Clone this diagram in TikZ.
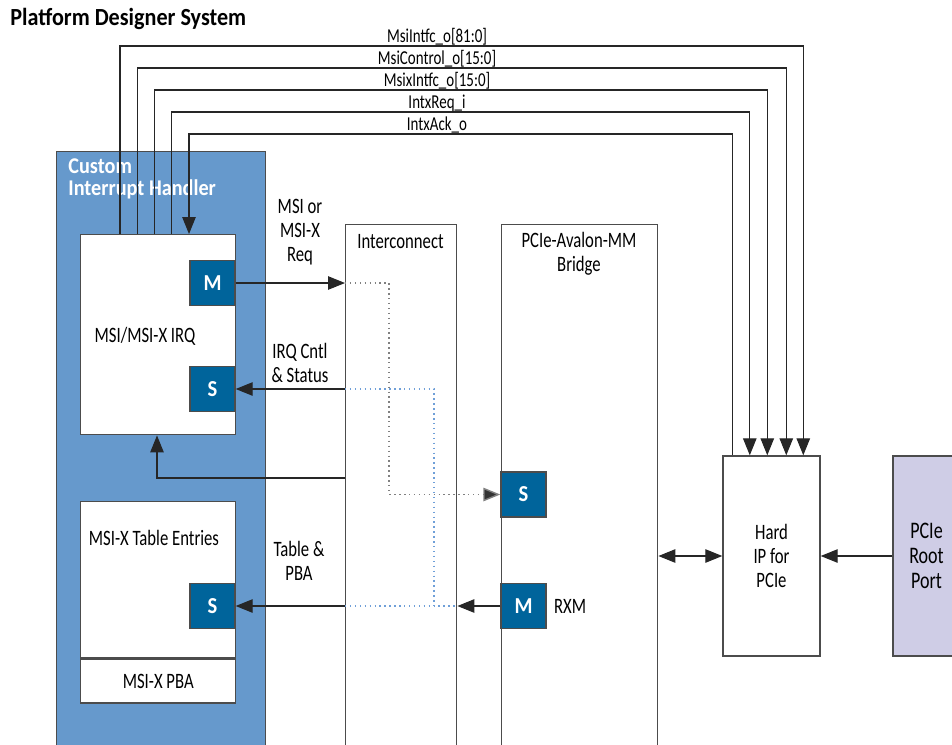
\documentclass[tikz,border=0pt]{standalone}
\usepackage{fontspec}
\setmainfont{Carlito}[FakeStretch=0.76]
\newfontfamily\headfont{Carlito}[FakeStretch=0.9]
\usetikzlibrary{arrows.meta,positioning,calc}
\definecolor{cihblue}{HTML}{6699CC}
\definecolor{portblue}{HTML}{00649B}
\definecolor{rootpurple}{HTML}{CFCDE6}
\definecolor{dotblue}{HTML}{6F9FD8}
\definecolor{dotgray}{HTML}{808080}
\newcommand{\bodyfont}{\fontsize{12.5}{13.7}\selectfont}

\begin{document}
\begin{tikzpicture}[>={Triangle[length=0.34cm,width=0.27cm]}, font=\bodyfont,
  blk/.style={draw=black!70, line width=0.8pt, fill=#1, inner sep=0pt},
  blk/.default=white,
  port/.style={draw=black!70, line width=0.8pt, fill=portblue, minimum size=0.9cm, inner sep=0pt, text=white, font=\headfont\fontsize{13}{14}\selectfont\bfseries},
  wire/.style={black!85, line width=0.6pt},
  lab/.style={font=\fontsize{11.2}{12}\selectfont, inner sep=0pt}]
  \useasboundingbox (0,0) rectangle (19.04,-14.88);
  \clip (0,0) rectangle (19.04,-14.88);
  % title
  \node[font=\headfont\fontsize{14}{16}\selectfont\bfseries, anchor=west, inner sep=0pt] (title) at (0.2,-0.38) {Platform Designer System};
  % custom interrupt handler
  \node[blk=cihblue, minimum width=4.18cm, minimum height=12.4cm, anchor=north west] (cih) at (1.12,-3.02) {};
  \node[font=\headfont\fontsize{12.8}{12.6}\selectfont\bfseries, text=white, align=left, anchor=north west, inner sep=0pt] (cihlab) at (1.36,-3.17) {Custom\\Interrupt Handler};
  \node[blk, minimum width=3.1cm, minimum height=4.0cm, anchor=north west] (irq) at (1.6,-4.68) {};
  \node (irqlab) at (2.9,-6.72) {MSI/MSI-X IRQ};
  \node[port] (irqm) at (4.25,-5.66) {M};
  \node[port] (irqs) at (4.25,-7.78) {S};
  \node[blk, minimum width=3.1cm, minimum height=3.12cm, anchor=north west] (tbl) at (1.6,-10.02) {};
  \node[blk, minimum width=3.1cm, minimum height=0.88cm, anchor=north west] (pba) at (tbl.south west) {MSI-X PBA};
  \node (tbllab) at (3.08,-10.76) {MSI-X Table Entries};
  \node[port] (tbls) at (4.25,-12.12) {S};
  % interconnect and bridge
  \node[blk, minimum width=2.22cm, minimum height=10.8cm, anchor=north west] (icx) at (6.9,-4.48) {};
  \node (icxlab) at (8.01,-4.84) {Interconnect};
  \node[blk, minimum width=3.12cm, minimum height=10.8cm, anchor=north west] (brg) at (10.02,-4.48) {};
  \node[align=center] (brglab) at (11.58,-5.08) {PCIe-Avalon-MM\\Bridge};
  \node[port] (brgs) at (10.47,-9.89) {S};
  \node[port] (brgm) at (10.47,-12.12) {M};
  \node[right=0.14cm of brgm, inner sep=0pt] (rxm) {RXM};
  % hard ip and root port
  \node[blk, minimum width=1.94cm, minimum height=4cm, align=center] (hip) at (15.43,-11.12) {Hard\\IP for\\PCIe};
  \node[blk=rootpurple, minimum width=1.34cm, minimum height=4cm, align=center, font=\fontsize{13.5}{14.2}\selectfont] (rp) at (18.53,-11.12) {PCIe\\Root\\Port};
  % avalon connections
  \draw[->, wire] (irqm.east) -- (icx.west |- irqm.east) coordinate (mreq);
  \node[align=center] (reqlab) at (6.0,-4.64) {MSI or\\MSI-X\\Req};
  \draw[-{Triangle[length=0.34cm,width=0.27cm,fill=black!80]}, dotgray, line width=0.8pt, dotted] (mreq) -- ++(0.88,0) |- (brgs.west);
  \draw[->, wire] (icx.west |- irqs.east) -- (irqs.east);
  \node[align=center] (ctllab) at (6.0,-7.26) {IRQ Cntl\\\& Status};
  \draw[dotblue, line width=0.8pt, dotted] (icx.west |- irqs.east) -- ++(1.78,0) coordinate (bt) -- (bt |- tbls.east);
  \draw[dotblue, line width=0.8pt, dotted] (icx.west |- tbls.east) -- (icx.east |- tbls.east);
  \draw[->, wire] (brgm.west) -- (icx.east |- brgm.west);
  \draw[->, wire] (icx.west |- tbls.east) -- (tbls.east);
  \node[align=center] (tbllab2) at (5.98,-11.22) {Table \&\\PBA};
  \coordinate (fb) at (3.14,-9.56);
  \draw[->, wire] (icx.west |- fb) -- (fb) -- (fb |- irq.south);
  \draw[<->, wire] (brg.east |- hip.west) -- (hip.west);
  \draw[->, wire] (rp.west) -- (hip.east);
  % interrupt wires to hard ip
  \foreach \dl/\dr/\yy/\sig/\tip [count=\i] in {0.80/1.62/-0.92/{MsiIntfc\_o[81:0]}/->, 1.145/1.28/-1.36/{MsiControl\_o[15:0]}/->, 1.49/0.90/-1.80/{MsixIntfc\_o[15:0]}/->, 1.835/0.55/-2.24/{IntxReq\_i}/->, 2.18/0.20/-2.68/{IntxAck\_o}/<-} {
    \coordinate (wl\i) at ($(irq.north west)+(\dl,0)$);
    \coordinate (wr\i) at ($(hip.north west)+(\dr,0)$);
    \coordinate (wy\i) at (0,\yy);
    \draw[wire, \tip] (wl\i) -- (wl\i |- wy\i) -- (wr\i |- wy\i) -- (wr\i);
    \node[lab, anchor=base] (sig\i) at (8.74,\yy+0.08) {\sig};
  }
\end{tikzpicture}
\end{document}
